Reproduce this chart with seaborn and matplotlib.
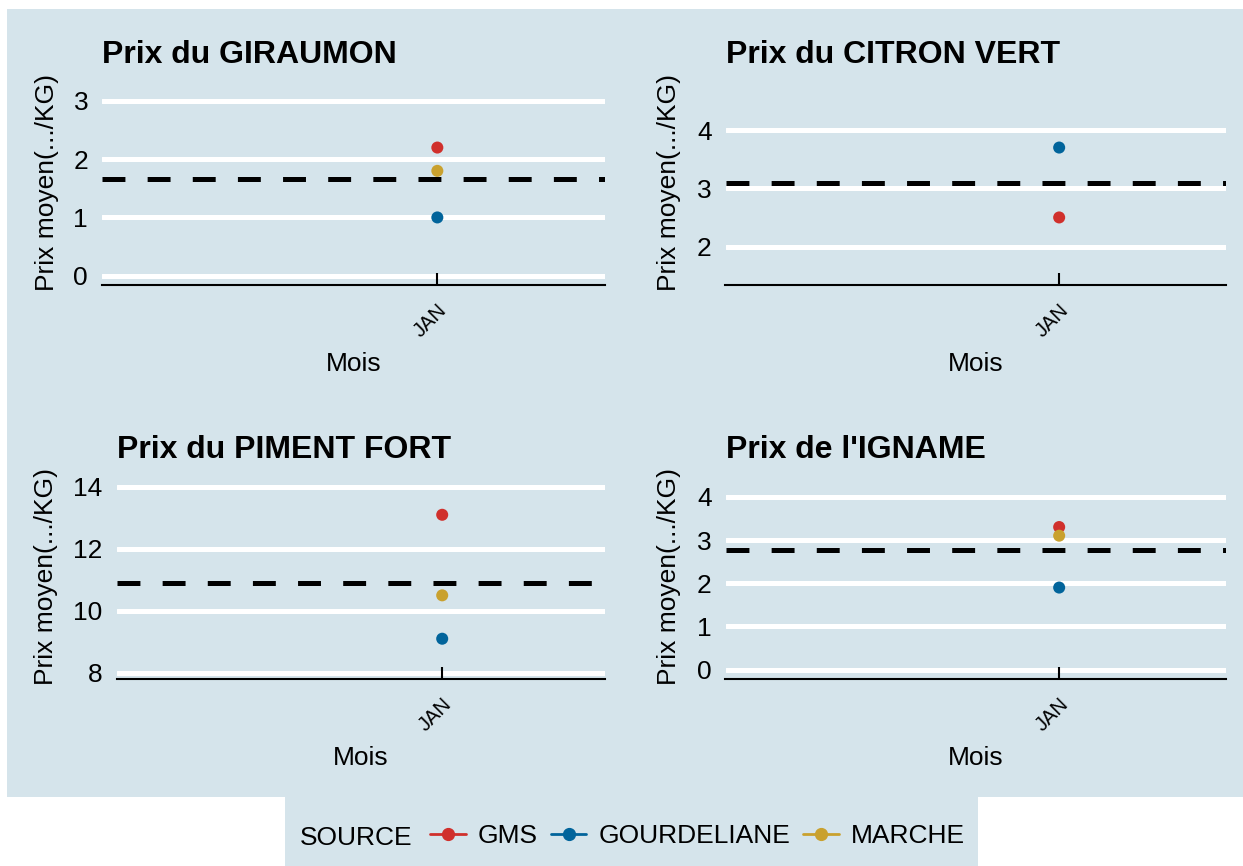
import numpy as np
import pandas as pd
import matplotlib
matplotlib.use("Agg")
import matplotlib.pyplot as plt
from matplotlib.lines import Line2D
from matplotlib.patches import Rectangle
import seaborn as sns

# --- data ---
sources = ["GMS", "GOURDELIANE", "MARCHE"]
palette = {"GMS": "#d0302c", "GOURDELIANE": "#01649b", "MARCHE": "#c9a12e"}
months = ["JAN"]

titles = ["Prix du GIRAUMON", "Prix du CITRON VERT", "Prix du PIMENT FORT", "Prix de l'IGNAME"]
giraumon = [2.2, 1.0, 1.8]
citron_vert = [2.5, 3.7, None]
piment_fort = [13.1, 9.1, 10.5]
igname = [3.3, 1.9, 3.1]
panel_values = [giraumon, citron_vert, piment_fort, igname]

yticks = [[0, 1, 2, 3], [2, 3, 4], [8, 10, 12, 14], [0, 1, 2, 3, 4]]
ylims = [(-0.16, 3.36), (1.34, 4.86), (7.8, 14.4), (-0.215, 4.515)]

BG = "#d5e4eb"
W, H = 1243, 866

sns.set_style("white")
plt.rcParams["font.family"] = ["Liberation Sans", "DejaVu Sans"]
plt.rcParams["lines.scale_dashes"] = False
plt.rcParams["text.color"] = "black"

fig = plt.figure(figsize=(W / 100, H / 100), dpi=100)
fig.patch.set_facecolor("white")


def px(x0, y0, x1, y1):
    return [x0 / W, 1 - y1 / H, (x1 - x0) / W, (y1 - y0) / H]


# background panels
fig.patches.append(Rectangle((7 / W, 1 - 797 / H), (W - 7) / W, (797 - 9) / H,
                             transform=fig.transFigure, facecolor=BG, edgecolor="none", zorder=-10))
fig.patches.append(Rectangle((285 / W, 0), (978 - 285) / W, (H - 797) / H + 0.001,
                             transform=fig.transFigure, facecolor=BG, edgecolor="none", zorder=-10))

# panel boxes (left, top, right, bottom) in pixels
boxes = [(102, 80, 605, 285), (725.5, 80, 1226, 285),
         (116.6, 474.5, 605, 679), (725.5, 474.5, 1226, 679)]
ylab_x = [47, 669, 46.5, 669]

for i, (box, vals) in enumerate(zip(boxes, panel_values)):
    x0, y0, x1, y1 = box
    ax = fig.add_axes(px(x0, y0, x1, y1))
    ax.set_facecolor("none")
    df = pd.DataFrame({"Mois": months * len(sources), "SOURCE": sources, "Prix": vals}).dropna()

    ax.set_axisbelow(True)
    ax.xaxis.set_zorder(2.5)
    ax.set_yticks(yticks[i])
    ax.grid(axis="y", color="white", linewidth=3.6)
    ax.grid(axis="x", visible=False)

    ax.axhline(df["Prix"].mean(), color="black", linewidth=3.6,
               linestyle=(0, (16.5, 16.0)), zorder=2)
    sns.scatterplot(data=df, x="Mois", y="Prix", hue="SOURCE", palette=palette,
                    hue_order=sources, s=75, edgecolor="none", legend=False, ax=ax, zorder=3)

    ax.set_xlim(-1.0, 0.5)
    ax.set_ylim(*ylims[i])
    for sp in ["top", "left", "right"]:
        ax.spines[sp].set_visible(False)
    ax.spines["bottom"].set_color("black")
    ax.spines["bottom"].set_linewidth(1.5)
    ax.tick_params(axis="y", left=False, length=0, pad=10, labelsize=19, labelcolor="black")
    ax.tick_params(axis="x", bottom=True, direction="in", length=8.5, width=1.5, color="black",
                   pad=11, labelsize=14.5, labelcolor="black")
    for lab in ax.get_xticklabels():
        lab.set_rotation(45)
        lab.set_ha("right")
        lab.set_va("top")
        lab.set_rotation_mode("anchor")
    ax.set_xlabel("")
    ax.set_ylabel("")

    # title, axis titles
    fig.text(x0 / W, 1 - (y0 - 16.7) / H, titles[i], fontsize=23, fontweight="bold",
             ha="left", va="baseline", color="black")
    fig.text((x0 + x1) / 2 / W, 1 - (y1 + 85.8) / H, "Mois", fontsize=19,
             ha="center", va="baseline", color="black")
    fig.text(ylab_x[i] / W, 1 - (y0 + y1) / 2 / H, "Prix moyen(.../KG)", fontsize=19,
             rotation=90, ha="center", va="center", color="black")

# legend
fig.text(300 / W, 1 - 845 / H, "SOURCE", fontsize=19, ha="left", va="baseline", color="black")
handles = [Line2D([0], [0], color=palette[s], lw=2, marker="o", markersize=8.5) for s in sources]
leg = fig.legend(handles, sources, loc="center left", bbox_to_anchor=(430 / W, 1 - 836 / H),
                 ncol=3, frameon=False, fontsize=19, handlelength=1.35, handletextpad=0.45,
                 columnspacing=0.5, borderpad=0, borderaxespad=0)
for t in leg.get_texts():
    t.set_color("black")

fig.savefig("out.png", dpi=100, facecolor="white")
